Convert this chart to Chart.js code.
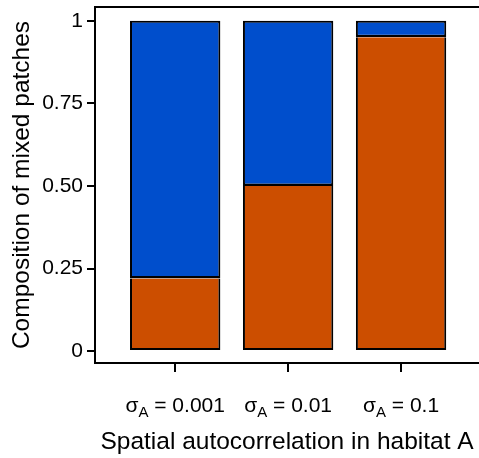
<!DOCTYPE html>
<html><head><meta charset="utf-8">
<script src="https://cdn.jsdelivr.net/npm/chart.js@4"></script>
<style>html,body{margin:0;padding:0;background:#fff}canvas{display:block}</style>
</head><body>
<canvas id="c" width="479" height="458"></canvas>
<script>
const categories = ['0.001', '0.01', '0.1'];
const tickSymbol = 'σ';
const tickSubscript = 'A';
const orangeValues = [0.22, 0.50, 0.95];
const blueValues = [0.78, 0.50, 0.05];
const yTickValues = [0, 0.25, 0.5, 0.75, 1];
const yTickLabels = ['0', '0.25', '0.50', '0.75', '1'];
const xTitle = 'Spatial autocorrelation in habitat A';
const yTitle = 'Composition of mixed patches';

const FAMILY = '"Liberation Sans", Arial, Helvetica, sans-serif';
const positions = categories.map((c, i) => i + 1);

const subLabelPlugin = {
  id: 'subLabels',
  afterDraw(chart) {
    const ctx = chart.ctx, xs = chart.scales.x;
    ctx.save();
    ctx.fillStyle = '#000';
    ctx.textBaseline = 'alphabetic';
    ctx.textAlign = 'left';
    categories.forEach((c, i) => {
      const cx = xs.getPixelForValue(positions[i]);
      const mainFont = '21px ' + FAMILY, subFont = '15px ' + FAMILY;
      const rest = ' = ' + c;
      ctx.font = mainFont;
      const w1 = ctx.measureText(tickSymbol).width;
      const w3 = ctx.measureText(rest).width;
      ctx.font = subFont;
      const w2 = ctx.measureText(tickSubscript).width;
      const start = cx - (w1 + w2 + w3) / 2;
      const base = 412;
      ctx.font = mainFont;
      ctx.fillText(tickSymbol, start, base);
      ctx.font = subFont;
      ctx.fillText(tickSubscript, start + w1, base + 4.5);
      ctx.font = mainFont;
      ctx.fillText(rest, start + w1 + w2, base);
    });
    ctx.restore();
  }
};

new Chart(document.getElementById('c'), {
  type: 'bar',
  data: {
    datasets: [
      {
        label: 'orange',
        data: positions.map((x, i) => ({ x, y: orangeValues[i] })),
        backgroundColor: '#CC4E00',
        borderColor: '#000',
        borderWidth: { left: 2, right: 2, bottom: 2, top: 0 },
        borderSkipped: false,
        inflateAmount: 0
      },
      {
        label: 'blue',
        data: positions.map((x, i) => ({ x, y: blueValues[i] })),
        backgroundColor: '#004ECC',
        borderColor: '#000',
        borderWidth: { left: 2, right: 2, bottom: 2.5, top: 2 },
        borderSkipped: false,
        inflateAmount: 0
      }
    ]
  },
  options: {
    responsive: false,
    animation: false,
    layout: { padding: { left: 0, right: 0, top: 7, bottom: 0 } },
    plugins: { legend: { display: false }, tooltip: { enabled: false } },
    datasets: { bar: { barPercentage: 1, categoryPercentage: 0.8 } },
    scales: {
      x: {
        type: 'linear',
        position: 'bottom',
        stacked: true,
        offset: false,
        min: 0.29,
        max: 3.69,
        afterBuildTicks: s => { s.ticks = positions.map(v => ({ value: v })); },
        afterFit: s => { s.height = 95; s.paddingLeft = 0; s.paddingRight = 0; },
        ticks: { display: false },
        grid: { offset: false, drawOnChartArea: false, drawTicks: true, tickLength: 9, color: '#000', lineWidth: 2 },
        border: { display: true, color: '#000', width: 2 },
        title: { display: true, text: xTitle, color: '#000', font: { family: FAMILY, size: 24.5 }, padding: { top: 0, bottom: 1 } }
      },
      x2: {
        type: 'linear',
        position: 'top',
        offset: false,
        afterFit: s => { s.height = 0; s.paddingLeft = 0; s.paddingRight = 0; },
        ticks: { display: false },
        grid: { display: false, offset: false },
        border: { display: true, color: '#000', width: 2 }
      },
      y: {
        type: 'linear',
        stacked: true,
        min: -0.036,
        max: 1.0415,
        afterBuildTicks: s => { s.ticks = yTickValues.map(v => ({ value: v })); },
        afterFit: s => { s.width = 95; s.paddingTop = 0; s.paddingBottom = 0; },
        ticks: {
          color: '#000',
          font: { family: FAMILY, size: 21 },
          padding: 4,
          callback: (v, i) => yTickLabels[i]
        },
        grid: { drawOnChartArea: false, drawTicks: true, tickLength: 8, color: '#000', lineWidth: 2 },
        border: { display: true, color: '#000', width: 2 },
        title: { display: true, text: yTitle, color: '#000', font: { family: FAMILY, size: 24.5 }, padding: { top: 8, bottom: 0 } }
      }
    }
  },
  plugins: [subLabelPlugin]
});
</script>
</body></html>
